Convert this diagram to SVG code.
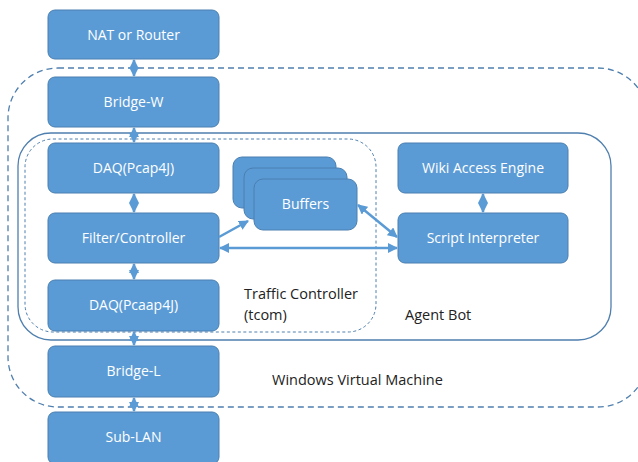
<svg xmlns="http://www.w3.org/2000/svg" width="638" height="462" viewBox="0 0 638 462">
<defs>
<marker id="ah" viewBox="0 0 10 10" refX="9" refY="5" markerWidth="4" markerHeight="4" orient="auto-start-reverse">
<path d="M0,0 L10,5 L0,10 z" fill="#5B9BD5"/>
</marker>
<style>
.box{fill:#5B9BD5;stroke:#4A7FB0;stroke-width:1}
.bt{fill:#fff;font-family:"Open Sans","Liberation Sans",sans-serif;font-size:14px;text-anchor:middle}
.lbl{fill:#222;font-family:"Open Sans","Liberation Sans",sans-serif;font-size:14.5px}
.con{stroke:#5B9BD5;stroke-width:2.5;fill:none;marker-start:url(#ah);marker-end:url(#ah)}
.one{stroke:#5B9BD5;stroke-width:2.5;fill:none;marker-end:url(#ah)}
</style>
</defs>
<rect width="638" height="462" fill="#fff"/>
<g id="containers" fill="none" stroke="#4F7FAE">
<rect id="vm" x="8" y="68" width="640" height="339" rx="50" stroke-width="1.3" stroke-dasharray="6,4"/>
<rect id="agentbot" x="18" y="133" width="593" height="207" rx="33" stroke-width="1.3"/>
<rect id="tcom" x="25" y="139" width="351" height="193" rx="28" stroke-width="1" stroke-dasharray="3,2.5"/>
</g>
<g id="nat"><rect class="box" x="48" y="10" width="171" height="49" rx="7"/><text class="bt" x="133.5" y="40">NAT or Router</text></g>
<g id="bridgew"><rect class="box" x="48" y="77" width="171" height="50" rx="7"/><text class="bt" x="133.5" y="107">Bridge-W</text></g>
<g id="daq1"><rect class="box" x="48" y="143" width="171" height="50" rx="7"/><text class="bt" x="133.5" y="173">DAQ(Pcap4J)</text></g>
<g id="filter"><rect class="box" x="48" y="213" width="171" height="50" rx="7"/><text class="bt" x="133.5" y="243">Filter/Controller</text></g>
<g id="daq2"><rect class="box" x="48" y="280" width="171" height="51" rx="7"/><text class="bt" x="133.5" y="310">DAQ(Pcaap4J)</text></g>
<g id="bridgel"><rect class="box" x="48" y="346" width="171" height="51" rx="7"/><text class="bt" x="133.5" y="376">Bridge-L</text></g>
<g id="sublan"><rect class="box" x="48" y="412" width="171" height="52" rx="7"/><text class="bt" x="133.5" y="442">Sub-LAN</text></g>
<g id="buffers">
<rect class="box" x="233" y="157" width="103" height="51" rx="9"/>
<rect class="box" x="244" y="168" width="103" height="51" rx="9"/>
<rect class="box" x="254" y="179" width="103" height="51" rx="9"/>
<text class="bt" x="305.5" y="209">Buffers</text>
</g>
<g id="wiki"><rect class="box" x="398" y="143" width="170" height="50" rx="7"/><text class="bt" x="483" y="173">Wiki Access Engine</text></g>
<g id="script"><rect class="box" x="398" y="213" width="170" height="50" rx="7"/><text class="bt" x="483" y="243">Script Interpreter</text></g>
<g id="connectors">
<line class="con" x1="134" y1="60" x2="134" y2="76"/>
<line class="con" x1="134" y1="128" x2="134" y2="142"/>
<line class="con" x1="134" y1="194" x2="134" y2="212"/>
<line class="con" x1="134" y1="264" x2="134" y2="279"/>
<line class="con" x1="134" y1="332" x2="134" y2="345"/>
<line class="con" x1="134" y1="398" x2="134" y2="411"/>
<line class="con" x1="483" y1="194" x2="483" y2="212"/>
<line class="one" x1="219" y1="237" x2="248" y2="221"/>
<line class="con" x1="358" y1="205" x2="397" y2="237"/>
<line class="con" x1="220" y1="248" x2="397" y2="248"/>
</g>
<g id="labels">
<text class="lbl" x="244" y="299">Traffic Controller</text>
<text class="lbl" x="244" y="320">(tcom)</text>
<text class="lbl" x="405" y="320">Agent Bot</text>
<text class="lbl" x="272" y="385">Windows Virtual Machine</text>
</g>
</svg>
